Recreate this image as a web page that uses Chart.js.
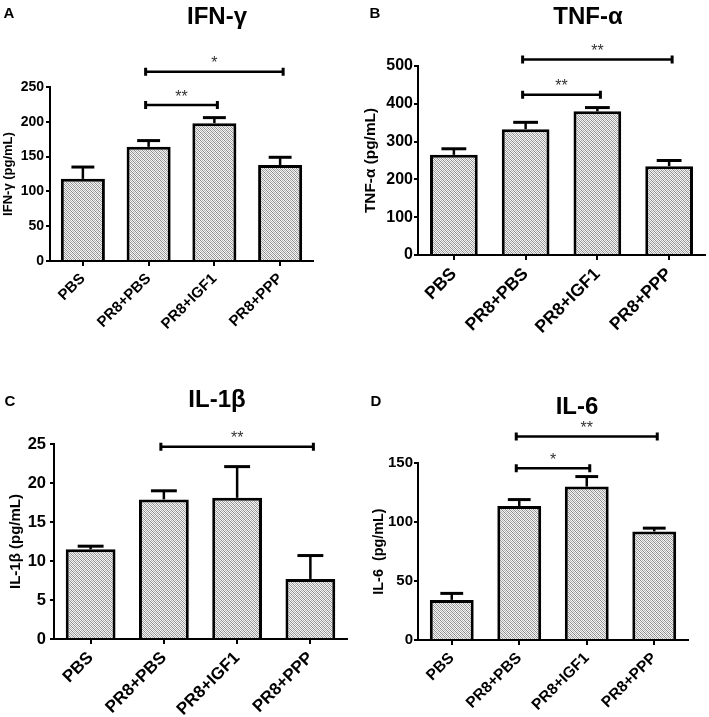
<!DOCTYPE html>
<html>
<head>
<meta charset="utf-8">
<script src="https://cdn.jsdelivr.net/npm/chart.js@4.4.1/dist/chart.umd.min.js"></script>
<style>
  body { margin: 0; background: #fff; }
  #wrap { position: relative; width: 709px; height: 717px; }
  canvas { position: absolute; }
</style>
</head>
<body>
<div id="wrap">
  <canvas id="cA" width="355" height="355" style="left:0;top:0"></canvas>
  <canvas id="cB" width="354" height="355" style="left:355px;top:0"></canvas>
  <canvas id="cC" width="355" height="362" style="left:0;top:355px"></canvas>
  <canvas id="cD" width="354" height="362" style="left:355px;top:355px"></canvas>
</div>
<script>
// dados
const grupos = ['PBS', 'PR8+PBS', 'PR8+IGF1', 'PR8+PPP'];

const ifnMedia = [118, 164, 198, 138];
const ifnErro = [17, 9, 8, 11];
const ifnSig = [[1, 2, 224, '**'], [1, 3, 272, '*']];

const tnfMedia = [265, 333, 380, 235];
const tnfErro = [16, 18, 10, 15];
const tnfSig = [[1, 2, 424, '**'], [1, 3, 517, '**']];

const il1bMedia = [11.5, 17.9, 18.1, 7.7];
const il1bErro = [0.4, 1.1, 4.0, 3.0];
const il1bSig = [[1, 3, 24.65, '**']];

const il6Media = [34, 113.5, 130, 92];
const il6Erro = [5.5, 5.5, 8.5, 2.8];
const il6Sig = [[1, 2, 145.5, '*'], [1, 3, 172.5, '**']];

const FONTE = "'Liberation Sans', Arial, sans-serif";

// padrao hachurado das barras
function hachura(ctx) {
    const c = document.createElement('canvas');
    c.width = 4; c.height = 4;
    const p = c.getContext('2d');
    for (let x = 0; x < 4; x++) {
        for (let y = 0; y < 4; y++) {
            let cor = (x + y) % 2 === 0 ? '#b4b4b4' : '#f4f4f4';
            if ((x - y + 4) % 4 === 0) cor = '#8c8c8c';
            p.fillStyle = cor;
            p.fillRect(x, y, 1, 1);
        }
    }
    return ctx.createPattern(c, 'repeat');
}

// erro, barras de significancia, titulo e letra
const extras = {
    id: 'extras',
    afterDatasetsDraw(chart, args, o) {
        const ctx = chart.ctx, xs = chart.scales.x, ys = chart.scales.y;
        const meta = chart.getDatasetMeta(0);
        ctx.save();
        ctx.strokeStyle = '#000';
        ctx.lineCap = 'butt';
        o.erro.forEach((e, i) => {
            const bar = meta.data[i];
            const y0 = ys.getPixelForValue(o.media[i]);
            const y1 = ys.getPixelForValue(o.media[i] + e);
            const hw = bar.width * 0.26;
            ctx.lineWidth = 2.5;
            ctx.beginPath(); ctx.moveTo(bar.x, y0); ctx.lineTo(bar.x, y1); ctx.stroke();
            ctx.lineWidth = 3;
            ctx.beginPath(); ctx.moveTo(bar.x - hw, y1); ctx.lineTo(bar.x + hw, y1); ctx.stroke();
        });
        o.sig.forEach(s => {
            const xa = xs.getPixelForValue(s[0]) - 3;
            const xb = xs.getPixelForValue(s[1]) + 3;
            const yy = ys.getPixelForValue(s[2]);
            ctx.lineWidth = 2.5;
            ctx.beginPath(); ctx.moveTo(xa, yy); ctx.lineTo(xb, yy); ctx.stroke();
            ctx.lineWidth = 3;
            ctx.beginPath();
            ctx.moveTo(xa, yy - 4); ctx.lineTo(xa, yy + 4);
            ctx.moveTo(xb, yy - 4); ctx.lineTo(xb, yy + 4);
            ctx.stroke();
            ctx.fillStyle = '#333';
            ctx.font = '16px ' + FONTE;
            ctx.textAlign = 'center';
            ctx.textBaseline = 'middle';
            ctx.fillText(s[3], (xa + xb) / 2, yy - 8);
        });
        ctx.restore();
    },
    afterDraw(chart, args, o) {
        const ctx = chart.ctx;
        ctx.save();
        ctx.fillStyle = '#000';
        ctx.textBaseline = 'middle';
        ctx.textAlign = 'center';
        ctx.font = 'bold 24px ' + FONTE;
        ctx.fillText(o.titulo, o.tx, o.ty);
        ctx.font = 'bold 15px ' + FONTE;
        ctx.fillText(o.letra, o.lx, o.ly);
        ctx.restore();
    }
};

function painel(id, media, erro, sig, c) {
    const canvas = document.getElementById(id);
    const ctx = canvas.getContext('2d');
    return new Chart(ctx, {
        type: 'bar',
        data: {
            labels: grupos,
            datasets: [{
                data: media,
                backgroundColor: hachura(ctx),
                borderColor: '#000',
                borderWidth: 3,
                borderSkipped: 'bottom',
                barPercentage: c.barPct,
                categoryPercentage: 1
            }]
        },
        options: {
            responsive: false,
            animation: false,
            events: [],
            layout: { padding: { left: 0, right: c.pr, top: c.pt, bottom: 0 } },
            plugins: {
                legend: { display: false },
                tooltip: { enabled: false },
                extras: {
                    media, erro, sig,
                    titulo: c.titulo, tx: c.tx, ty: c.ty,
                    letra: c.letra, lx: c.lx, ly: c.ly
                }
            },
            scales: {
                x: {
                    offset: true,
                    grid: { display: true, offset: false, drawOnChartArea: false, drawTicks: true, tickLength: 5, color: '#000', lineWidth: 2 },
                    border: { display: true, color: '#000', width: 2 },
                    ticks: {
                        color: '#000', autoSkip: false, minRotation: 45, maxRotation: 45, padding: 4,
                        font: { family: FONTE, size: c.xFont, weight: 'bold' }
                    },
                    afterFit(s) { s.height = c.xh; s.paddingLeft = 0; s.paddingRight = 0; }
                },
                y: {
                    min: 0, max: c.max,
                    grid: { display: true, drawOnChartArea: false, drawTicks: true, tickLength: 4, color: '#000', lineWidth: 2 },
                    border: { display: true, color: '#000', width: 2 },
                    ticks: {
                        color: '#000', stepSize: c.step, padding: c.tpad,
                        font: { family: FONTE, size: c.yFont, weight: 'bold' }
                    },
                    title: {
                        display: true, text: c.yTitulo, color: '#000',
                        padding: { top: c.titPad, bottom: 0 },
                        font: { family: FONTE, size: c.titFont, weight: 'bold' }
                    },
                    afterFit(s) { s.width = c.yw; s.paddingTop = 0; s.paddingBottom = 0; }
                }
            }
        },
        plugins: [extras]
    });
}

painel('cA', ifnMedia, ifnErro, ifnSig, {
    titulo: 'IFN-γ', tx: 217, ty: 17, letra: 'A', lx: 9, ly: 14,
    yTitulo: 'IFN-γ (pg/mL)', max: 250, step: 50,
    pr: 42, pt: 87, yw: 50, xh: 94, barPct: 0.67,
    xFont: 15, yFont: 14, titFont: 13, titPad: 1, tpad: 2
});
painel('cB', tnfMedia, tnfErro, tnfSig, {
    titulo: 'TNF-α', tx: 233, ty: 17, letra: 'B', lx: 20, ly: 14,
    yTitulo: 'TNF-α (pg/mL)', max: 500, step: 100,
    pr: 4, pt: 66, yw: 63, xh: 100, barPct: 0.665,
    xFont: 17.5, yFont: 16, titFont: 15.4, titPad: 6.5, tpad: 1
});
painel('cC', il1bMedia, il1bErro, il1bSig, {
    titulo: 'IL-1β', tx: 217, ty: 45, letra: 'C', lx: 10, ly: 47,
    yTitulo: 'IL-1β (pg/mL)', max: 25, step: 5,
    pr: 8, pt: 89, yw: 54, xh: 78, barPct: 0.68,
    xFont: 17, yFont: 16.5, titFont: 15, titPad: 6.8, tpad: 4
});
painel('cD', il6Media, il6Erro, il6Sig, {
    titulo: 'IL-6', tx: 222, ty: 52, letra: 'D', lx: 21, ly: 47,
    yTitulo: 'IL-6  (pg/mL)', max: 150, step: 50,
    pr: 21, pt: 108, yw: 63, xh: 77, barPct: 0.65,
    xFont: 15.5, yFont: 15, titFont: 14.4, titPad: 15, tpad: 1
});
</script>
</body>
</html>
